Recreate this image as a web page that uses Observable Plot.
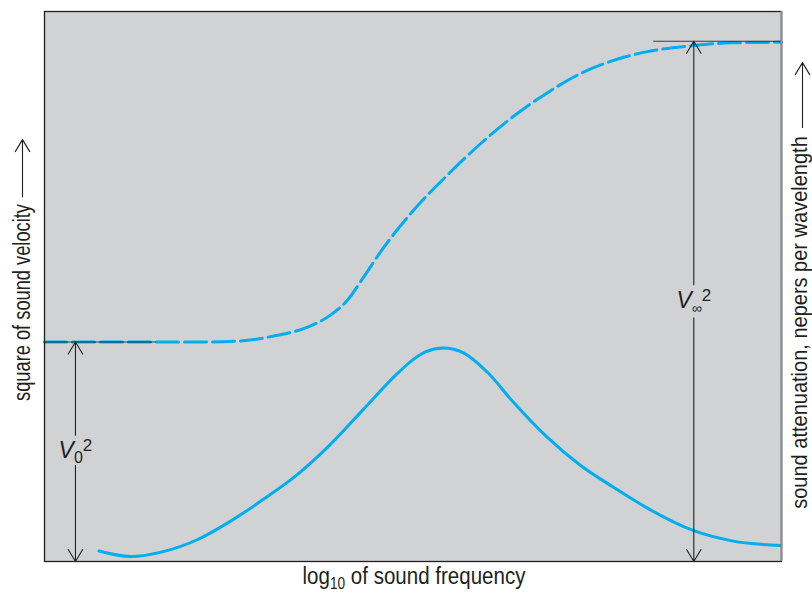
<!DOCTYPE html>
<html><head><meta charset="utf-8">
<script src="https://cdn.jsdelivr.net/npm/d3@7"></script>
<script src="https://cdn.jsdelivr.net/npm/@observablehq/plot@0.6"></script>
<style>body{margin:0;background:#fff} #chart svg{display:block}</style>
</head><body><div id="chart"></div>
<script>
// log10 frequency (arbitrary units) and square of sound velocity (dashed curve)
const freqV = [0,0.76,1.57,2.12,2.66,3.11,3.57,3.88,4.11,4.33,4.56,5.01,5.47,5.92,6.36,6.82,7.27,7.72,8.18,8.81,9.31,10];
const velSq = [39.9,39.9,39.9,39.9,40.1,41.0,42.6,44.8,47.5,51.7,56.3,63.9,70.3,76.0,80.9,85.2,88.7,91.1,92.7,93.8,94.3,94.4];
// log10 frequency and sound attenuation (solid curve)
const freqA = [0.74,1.17,1.61,2.08,2.52,2.97,3.43,3.88,4.33,4.79,5.01,5.17,5.41,5.69,6.01,6.36,6.82,7.27,7.72,8.18,8.81,9.31,9.99];
const atten = [1.9,0.9,1.8,4.0,7.3,11.3,15.8,21.3,27.7,34.2,36.8,38.1,38.8,37.9,34.4,29.0,22.6,17.5,13.5,9.7,5.6,3.8,2.9];
// limiting velocities
const limitNames = ["V0²", "V∞²"];
const limitLevels = [39.9, 94.6];
const limitFreq = [0.42, 8.81];
const limitLabelY = [20.2, 47.4];
const limitGapLow = [17.5, 44.3];
const limitGapHigh = [22.95, 50.3];
const limitLineFrom = [0, 8.26];
const limitLineTo = [1.51, 10];
// axis titles
const yLabel = "square of sound velocity";
const y2Label = "sound attenuation, nepers per wavelength";
const xLabel = "log10 of sound frequency";

const FONT = '"Liberation Sans Narrow", "Arial Narrow", "Liberation Sans", sans-serif';
const BLUE = "#00aeef";
const INK = "#231f20";

const velData = freqV.map((f, i) => ({f, v: velSq[i]}));
const attData = freqA.map((f, i) => ({f, a: atten[i]}));
const limits = limitNames.map((name, i) => ({
  name, level: limitLevels[i], f: limitFreq[i], ly: limitLabelY[i],
  gLo: limitGapLow[i], gHi: limitGapHigh[i], from: limitLineFrom[i], to: limitLineTo[i]
}));

const headLen = 14 * 1.5 / 1.1;

const chart = Plot.plot({
  width: 812, height: 596,
  marginLeft: 44, marginRight: 31, marginTop: 11, marginBottom: 35,
  x: {domain: [0, 10], axis: null},
  y: {domain: [0, 100], axis: null},
  style: {fontFamily: FONT, background: "#fff", overflow: "visible"},
  marks: [
    Plot.frame({fill: "#d1d2d4", stroke: null}),
    Plot.line(velData, {x: "f", y: "v", stroke: BLUE, strokeWidth: 3, strokeDasharray: "22,6", curve: "monotone-x"}),
    Plot.line(attData, {x: "f", y: "a", stroke: BLUE, strokeWidth: 3, curve: "monotone-x"}),
    Plot.link(limits, {x1: "from", x2: "to", y1: "level", y2: "level", stroke: INK, strokeWidth: 1.1, strokeOpacity: 0.85}),
    Plot.arrow(limits, {x1: "f", x2: "f", y1: "gHi", y2: "level", stroke: INK, strokeWidth: 1.1, headLength: headLen, headAngle: 62}),
    Plot.arrow(limits, {x1: "f", x2: "f", y1: "gLo", y2: () => 0, stroke: INK, strokeWidth: 1.1, headLength: headLen, headAngle: 62}),
    Plot.text(limits, {x: "f", y: "ly", text: "name", fontSize: 23, fill: INK}),
    Plot.frame({stroke: INK, strokeWidth: 1.3}),
    Plot.ruleX([10], {stroke: "#8c8c8c", strokeWidth: 2}),
    // axis titles
    Plot.text([yLabel], {frameAnchor: "left", textAnchor: "middle", dx: -22, dy: 16, rotate: -90, fontSize: 24, fill: INK}),
    Plot.text([y2Label], {frameAnchor: "right", textAnchor: "middle", dx: 18, dy: 36, rotate: -90, fontSize: 22, fill: INK}),
    Plot.text([xLabel], {frameAnchor: "bottom", textAnchor: "middle", dx: 1, dy: 22, fontSize: 24, fill: INK}),
    // axis-title arrows
    Plot.arrow([0], {x1: 0, x2: 0, y1: 66.3, y2: 76.7, dx: -22, stroke: INK, strokeWidth: 1.1, headLength: headLen, headAngle: 62}),
    Plot.arrow([0], {x1: 10, x2: 10, y1: 78.9, y2: 90.7, dx: 21, stroke: INK, strokeWidth: 1.1, headLength: headLen, headAngle: 62})
  ]
});

function findText(svg, match) {
  return d3.select(svg).selectAll("text").filter(function () { return this.textContent === match; });
}
function richText(svg, match, parts) {
  findText(svg, match).each(function () {
    const t = d3.select(this);
    t.text(null);
    let prev = 0;
    for (const p of parts) {
      const ts = t.append("tspan").text(p.t);
      const shift = p.dy || 0;
      if (shift - prev) ts.attr("dy", shift - prev);
      prev = shift;
      if (p.italic) ts.attr("font-style", "italic");
      if (p.size) ts.attr("font-size", p.size);
    }
  });
}
// condense a title along its own direction to the reference's length
function squeeze(svg, match, target) {
  findText(svg, match).each(function () {
    const len = this.getComputedTextLength();
    if (!(len > 0)) return;
    const k = target / len;
    let tr = this.getAttribute("transform");
    if (!tr) {
      const x = this.getAttribute("x");
      if (x != null && !isNaN(+x)) { this.removeAttribute("x"); tr = `translate(${x},0)`; }
      else tr = "";
    }
    this.setAttribute("transform", `${tr} scale(${k},1)`);
  });
}

richText(chart, "V0²", [{t: "V", italic: true}, {t: "0", dy: 5, size: 16}, {t: "2", dy: -7, size: 17}]);
richText(chart, "V∞²", [{t: "V", italic: true}, {t: "∞", dy: 5, size: 14}, {t: "2", dy: -7, size: 17}]);
richText(chart, xLabel, [{t: "log"}, {t: "10", dy: 5, size: 16}, {t: " of sound frequency", dy: 0}]);
document.getElementById("chart").appendChild(chart);
squeeze(chart, yLabel, 197);
squeeze(chart, y2Label, 373);
squeeze(chart, xLabel, 223);
</script></body></html>
